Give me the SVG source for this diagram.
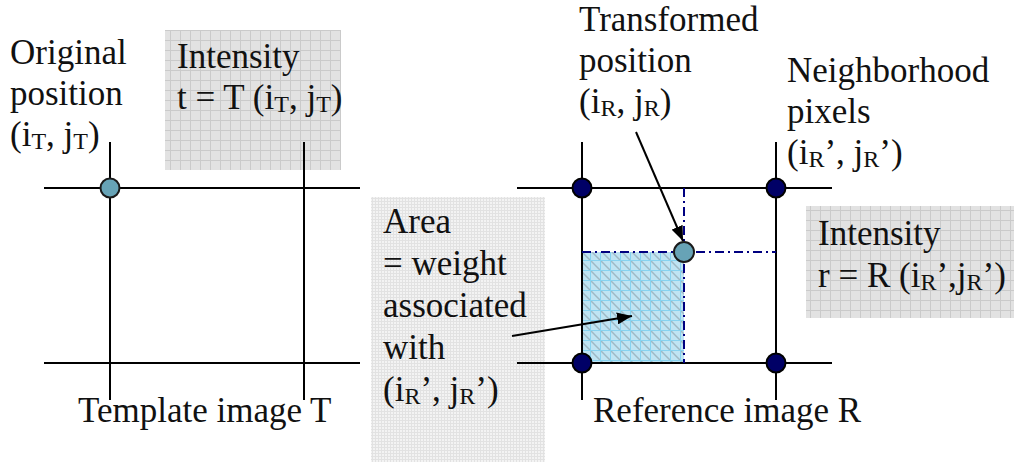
<svg xmlns="http://www.w3.org/2000/svg" width="1014" height="464" viewBox="0 0 1014 464" font-family="'Liberation Serif', 'DejaVu Serif', serif">
<style>
text{font-family:'Liberation Serif','DejaVu Serif',serif;font-size:35px;fill:#111}
.sub{font-size:24px}
.ln{stroke:#000;stroke-width:2;fill:none}
.dd{stroke:#000080;stroke-width:2;fill:none;stroke-dasharray:9 4 2 4}
.nv{fill:#000066;stroke:#000;stroke-width:2}
.tl{fill:#67a3b6;stroke:#1a1a1a;stroke-width:2}
.ar{stroke:#000;stroke-width:2;fill:none;marker-end:url(#ah)}
</style>
<defs>
<pattern id="grid" width="10" height="10" patternUnits="userSpaceOnUse">
<rect width="10" height="10" fill="#e2e2e2"/>
<path d="M0 0.5H10M0.5 0V10" stroke="#cacaca" stroke-width="1"/>
</pattern>
<pattern id="fine" width="3" height="3" patternUnits="userSpaceOnUse">
<rect width="3" height="3" fill="#f3f3f3"/>
<path d="M0 0.5H3M0.5 0V3" stroke="#e2e2e2" stroke-width="1"/>
</pattern>
<pattern id="blue" width="10" height="10" patternUnits="userSpaceOnUse">
<rect width="10" height="10" fill="#bfe4f3"/>
<path d="M0 0L10 10" stroke="#9fb8c4" stroke-width="1.5"/>
<path d="M0 0.5H10M0.5 0V10" stroke="#86d2ef" stroke-width="1"/>
</pattern>
<marker id="ah" viewBox="0 0 10 10" refX="10" refY="5" markerWidth="15" markerHeight="12" markerUnits="userSpaceOnUse" orient="auto" preserveAspectRatio="none">
<path d="M0 0L10 5L0 10z" fill="#000"/>
</marker>
</defs>
<rect width="1014" height="464" fill="#fff"/>

<g id="template-grid">
<path class="ln" d="M44 188H360M44 363H360M110 142V400M304 142V400"/>
</g>
<g id="template-intensity">
<rect x="165" y="30" width="176" height="140" fill="url(#grid)"/>
<text x="177" y="68">Intensity</text>
<text x="177" y="109">t = T (i<tspan class="sub" dy="3">T</tspan><tspan dy="-3">, j</tspan><tspan class="sub" dy="3">T</tspan><tspan dy="-3">)</tspan></text>
</g>
<path class="ln" d="M304 142V188"/>
<g id="original-position">
<circle class="tl" cx="110" cy="188" r="9.5"/>
<text x="10" y="64">Original</text>
<text x="10" y="105">position</text>
<text x="10" y="146">(i<tspan class="sub" dy="3">T</tspan><tspan dy="-3">, j</tspan><tspan class="sub" dy="3">T</tspan><tspan dy="-3">)</tspan></text>
</g>
<g id="template-label">
<text x="78" y="422">Template image T</text>
</g>

<g id="area-label">
<rect x="371" y="197" width="174" height="265" fill="url(#fine)"/>
<text x="383" y="233">Area</text>
<text x="383" y="275">= weight</text>
<text x="383" y="317">associated</text>
<text x="383" y="359">with</text>
<text x="383" y="401">(i<tspan class="sub" dy="3">R</tspan><tspan dy="-3">’, j</tspan><tspan class="sub" dy="3">R</tspan><tspan dy="-3">’)</tspan></text>
</g>

<g id="weight-area">
<rect x="582" y="252" width="102" height="111" fill="url(#blue)"/>
</g>
<g id="reference-grid">
<path class="ln" d="M517 188H832M517 363H832M582 142V400M776 142V400"/>
<path class="dd" d="M582 252H776M684 188V363"/>
</g>
<g id="neighborhood-pixels">
<circle class="nv" cx="582" cy="188" r="9.5"/>
<circle class="nv" cx="776" cy="188" r="9.5"/>
<circle class="nv" cx="582" cy="363" r="9.5"/>
<circle class="nv" cx="776" cy="363" r="9.5"/>
<text x="787" y="82">Neighborhood</text>
<text x="787" y="123">pixels</text>
<text x="787" y="164">(i<tspan class="sub" dy="3">R</tspan><tspan dy="-3">’, j</tspan><tspan class="sub" dy="3">R</tspan><tspan dy="-3">’)</tspan></text>
</g>
<g id="transformed-position">
<circle class="tl" cx="684" cy="252" r="10"/>
<text x="579" y="31">Transformed</text>
<text x="579" y="72">position</text>
<text x="579" y="113">(i<tspan class="sub" dy="3">R</tspan><tspan dy="-3">, j</tspan><tspan class="sub" dy="3">R</tspan><tspan dy="-3">)</tspan></text>
</g>
<g id="reference-intensity">
<rect x="806" y="206" width="208" height="112" fill="url(#grid)"/>
<text x="818" y="245">Intensity</text>
<text x="818" y="287">r = R (i<tspan class="sub" dy="3">R</tspan><tspan dy="-3">’,j</tspan><tspan class="sub" dy="3">R</tspan><tspan dy="-3">’)</tspan></text>
</g>
<g id="reference-label">
<text x="593" y="422">Reference image R</text>
</g>

<g id="connectors">
<path class="ar" d="M636 132L683 241"/>
<path class="ar" d="M512 336L632 316"/>
</g>
</svg>
